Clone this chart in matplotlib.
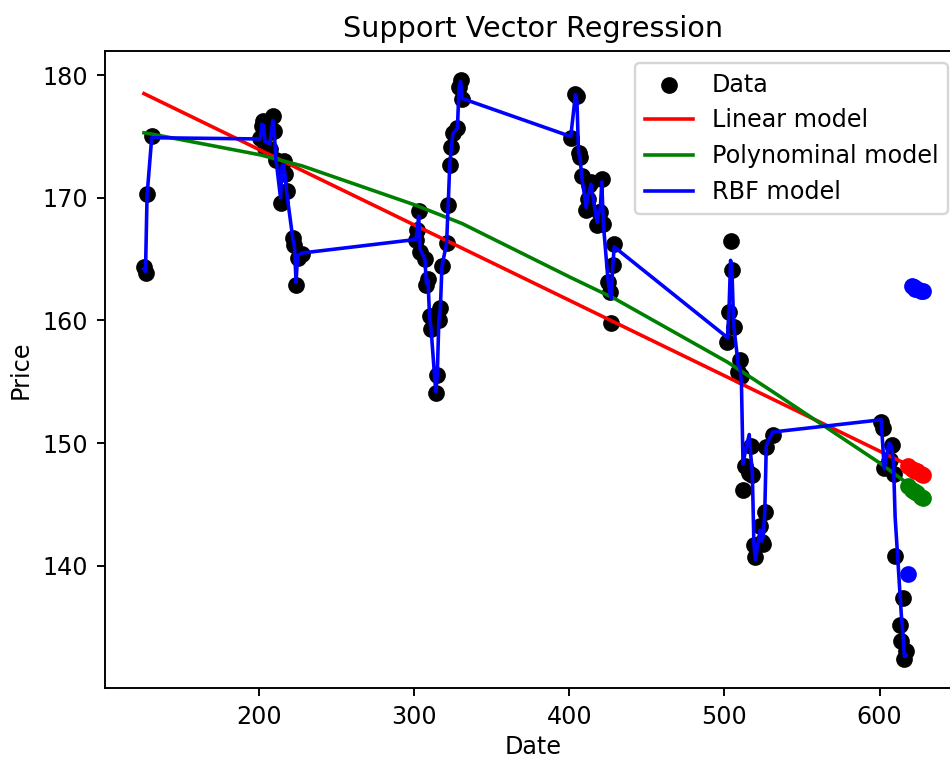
#!/usr/bin/env python3
"""
Support Vector Regression on daily prices (dates as MMDD).
Draws data, the three SVR fits and the next-day predictions to out.png.
"""
import matplotlib
matplotlib.use("Agg")
import matplotlib.pyplot as plt

# ── data (dates encoded as MMDD, price = daily value) ─────────────────────────
dates = [
    126, 127, 128, 131,
    201, 202, 203, 204, 207, 208, 209, 210, 211, 214, 215, 216, 217, 218,
    222, 223, 224, 225, 228,
    301, 302, 303, 304, 307, 308, 309, 310, 311, 314, 315, 316, 317, 318,
    321, 322, 323, 324, 325, 328, 329, 330, 331,
    401, 404, 405, 406, 407, 408, 411, 412, 413, 414, 418, 419, 420, 421,
    422, 425, 426, 427, 428, 429,
    502, 503, 504, 505, 506, 509, 510, 511, 512, 513, 516, 517, 518, 519,
    520, 523, 524, 525, 526, 527, 531,
    601, 602, 603, 606, 607, 608, 609, 610, 613, 614, 615, 616, 617,
]
prices = [
    164.39, 163.84, 170.35, 175.00,
    174.84, 175.88, 176.24, 174.10, 173.95, 175.35, 176.65, 175.48, 173.08,
    169.58, 172.95, 172.98, 171.91, 170.54, 166.69, 166.15, 162.85, 165.12,
    165.42,
    166.60, 167.36, 168.91, 165.55, 165.02, 162.88, 163.41, 160.39, 159.28,
    154.12, 155.57, 160.00, 161.00, 164.48, 166.35, 169.42, 172.64, 174.14,
    175.28, 175.73, 179.01, 179.61, 178.03,
    174.88, 178.49, 178.30, 173.63, 173.36, 171.78, 169.03, 169.87, 171.04,
    171.27, 167.82, 168.88, 168.88, 171.53, 167.87, 163.17, 162.34, 159.79,
    164.52, 166.20,
    158.23, 160.71, 166.48, 164.08, 159.44, 155.83, 156.74, 155.45, 146.20,
    148.10, 147.52, 149.77, 147.36, 141.66, 140.70, 143.26, 141.97, 141.78,
    144.34, 149.68, 150.66,
    151.74, 151.27, 147.97, 148.57, 148.62, 149.87, 147.46, 140.76, 135.20,
    133.89, 137.34, 132.39, 133.08,
]

# RBF fit, read at every date
rbf_fit = [
    164.2, 164.0, 170.2, 174.9,
    174.8, 176.0, 175.9, 174.6, 174.4, 175.2, 176.3, 175.3, 173.2, 170.0,
    172.6, 172.7, 171.7, 170.4, 166.6, 166.0, 163.1, 165.3, 165.5,
    166.6, 167.2, 168.5, 165.8, 165.0, 163.0, 163.3, 160.4, 159.3, 154.2,
    155.5, 160.0, 161.0, 164.4, 166.3, 169.3, 172.6, 174.0, 175.2, 175.7,
    179.0, 179.5, 178.1,
    175.0, 178.4, 177.9, 173.7, 173.3, 171.8, 169.2, 170.2, 170.5, 171.1,
    168.0, 168.8, 169.0, 171.3, 167.9, 163.3, 162.4, 161.8, 164.3, 166.0,
    158.6, 161.0, 164.9, 163.5, 159.6, 156.3, 156.2, 154.8, 148.3, 149.0,
    150.7, 149.0, 147.6, 141.8, 140.5, 142.9, 142.0, 142.4, 144.3, 149.8,
    150.9,
    151.9, 149.9, 147.9, 150.0, 149.9, 149.5, 148.2, 144.0, 138.0, 136.0,
    134.5, 132.6, 132.7,
]

# linear fit is a straight line: first and last date
lin_dates = [126, 617]
lin_fit = [178.5, 148.3]

# polynomial fit, read where the date gaps start and end
poly_dates = [126, 131, 201, 228, 301, 331, 401, 429, 502, 531, 601, 617]
poly_fit = [175.3, 175.2, 173.5, 172.6, 169.4, 167.9, 163.5, 161.8,
            156.6, 154.2, 148.3, 146.8]

# predictions for the following days
pred_dates = [618, 621, 622, 623, 624, 627, 628]
lin_pred = [148.1, 147.9, 147.8, 147.7, 147.7, 147.5, 147.4]
poly_pred = [146.5, 146.2, 146.1, 146.0, 145.9, 145.6, 145.5]
rbf_pred = [139.3, 162.8, 162.7, 162.6, 162.6, 162.4, 162.4]

W, H, DPI = 951, 760, 172
fig = plt.figure(figsize=(W / DPI, H / DPI), dpi=DPI)
# the source picture is cropped on the right, so the axes run past the edge
ax = fig.add_axes([105 / W, 72 / H, 857 / W, 637 / H])

ax.scatter(dates, prices, color="black", label="Data")
ax.plot(lin_dates, lin_fit, color="red", label="Linear model")
ax.plot(poly_dates, poly_fit, color="green", label="Polynominal model")
ax.plot(dates, rbf_fit, color="blue", label="RBF model")

ax.scatter(pred_dates, lin_pred, color="red")
ax.scatter(pred_dates, poly_pred, color="green")
ax.scatter(pred_dates, rbf_pred, color="blue")

ax.set_title("Support Vector Regression")
ax.set_xlabel("Date", labelpad=2.5)
ax.set_ylabel("Price")
ax.legend(loc="upper right", bbox_to_anchor=(0.9977, 1.0))

fig.savefig("out.png", dpi=DPI)
plt.close(fig)
